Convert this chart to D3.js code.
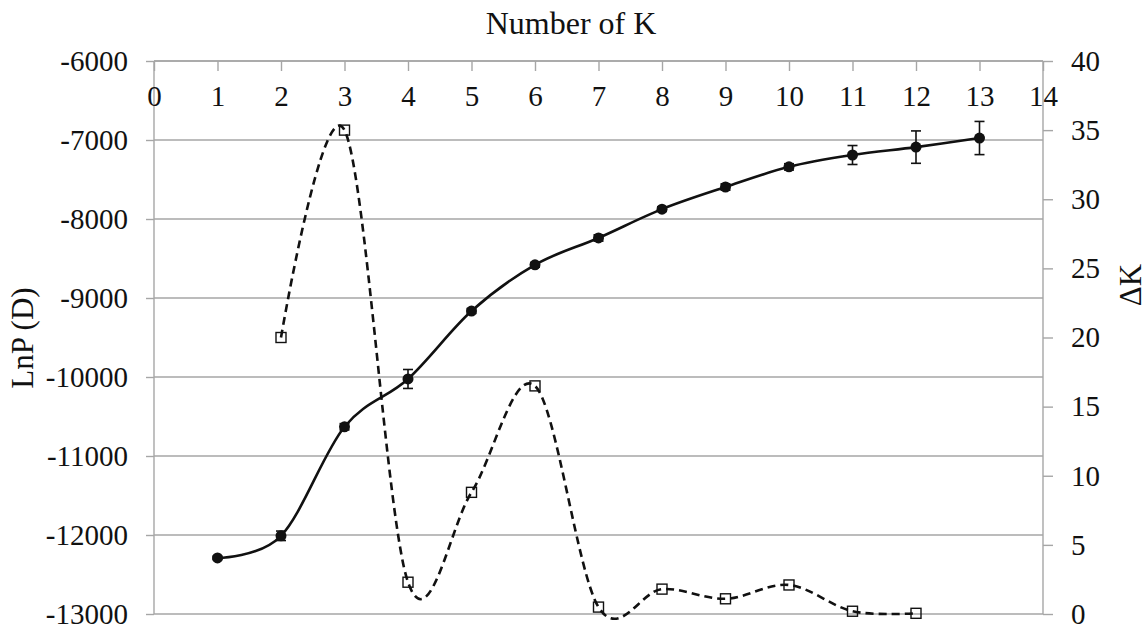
<!DOCTYPE html>
<html>
<head>
<meta charset="utf-8">
<script src="https://cdn.jsdelivr.net/npm/d3@7"></script>
<style>
  body { margin: 0; background: #fff; }
  text { font-family: "Liberation Serif", "Times New Roman", serif; fill: #111; }
</style>
</head>
<body>
<svg id="chart" width="1148" height="635"></svg>
<script>
// data
const kValues = [1, 2, 3, 4, 5, 6, 7, 8, 9, 10, 11, 12, 13];
const lnP = [-12290, -12010, -10630, -10025, -9165, -8580, -8240, -7875, -7595, -7340, -7190, -7090, -6975];
const lnPsd = [20, 60, 40, 120, 30, 30, 40, 30, 40, 40, 120, 205, 210];
const deltaKs = [2, 3, 4, 5, 6, 7, 8, 9, 10, 11, 12];
const deltaK = [20.0, 35.0, 2.3, 8.8, 16.5, 0.5, 1.8, 1.1, 2.1, 0.2, 0.05];
const xTicks = d3.range(0, 15);
const leftTicks = [-6000, -7000, -8000, -9000, -10000, -11000, -12000, -13000];
const rightTicks = [0, 5, 10, 15, 20, 25, 30, 35, 40];

const margin = { top: 61, right: 105, bottom: 21, left: 154 };
const width = 1148 - margin.left - margin.right;
const height = 635 - margin.top - margin.bottom;

const svg = d3.select("#chart");
const g = svg.append("g").attr("transform", `translate(${margin.left},${margin.top})`);

const x = d3.scaleLinear().domain([0, 14]).range([0, width]);
const yL = d3.scaleLinear().domain([-13000, -6000]).range([height, 0]);
const yR = d3.scaleLinear().domain([0, 40]).range([height, 0]);

const grey = "#a6a6a6";

// gridlines
g.append("g").selectAll("line").data(leftTicks).enter().append("line")
  .attr("x1", 0).attr("x2", width)
  .attr("y1", d => yL(d)).attr("y2", d => yL(d))
  .attr("stroke", grey).attr("stroke-width", 1.4);

// left axis (plain hyphen like the original)
const leftAxis = g.append("g")
  .call(d3.axisLeft(yL).tickValues(leftTicks).tickSize(8).tickPadding(18).tickFormat(d => String(d)));
leftAxis.selectAll("text").attr("font-size", "29px");

// right axis
const rightAxis = g.append("g").attr("transform", `translate(${width},0)`)
  .call(d3.axisRight(yR).tickValues(rightTicks).tickSize(10).tickPadding(18));
rightAxis.selectAll("text").attr("font-size", "29px");

// top x axis: ticks point down into the plot, labels below
const topAxis = g.append("g")
  .call(d3.axisBottom(x).tickValues(xTicks).tickSize(10).tickPadding(14));
topAxis.selectAll("text").attr("font-size", "29px");

[leftAxis, rightAxis, topAxis].forEach(a => {
  a.select(".domain").attr("stroke", grey).attr("stroke-width", 1.4);
  a.selectAll(".tick line").attr("stroke", grey).attr("stroke-width", 1.4);
  a.selectAll("text").attr("fill", "#111");
});
leftAxis.select(".domain").attr("d", `M0,0V${height}`);
rightAxis.select(".domain").attr("d", `M0,0V${height}`);
topAxis.select(".domain").attr("d", `M0,0H${width}`);

// ΔK dashed smooth line
const lineR = d3.line()
  .x((d, i) => x(deltaKs[i]))
  .y(d => yR(d))
  .curve(d3.curveCardinal.tension(0));
g.append("path").datum(deltaK)
  .attr("d", lineR)
  .attr("fill", "none").attr("stroke", "#111")
  .attr("stroke-width", 2.6).attr("stroke-dasharray", "8,5");

g.append("g").selectAll("rect").data(deltaK).enter().append("rect")
  .attr("x", (d, i) => x(deltaKs[i]) - 5)
  .attr("y", d => yR(d) - 5)
  .attr("width", 10).attr("height", 10)
  .attr("fill", "none").attr("stroke", "#111").attr("stroke-width", 1.4);

// LnP solid smooth line
const lineL = d3.line()
  .x((d, i) => x(kValues[i]))
  .y(d => yL(d))
  .curve(d3.curveCardinal.tension(0));
g.append("path").datum(lnP)
  .attr("d", lineL)
  .attr("fill", "none").attr("stroke", "#111").attr("stroke-width", 2.6);

// error bars
const err = g.append("g").attr("stroke", "#111").attr("stroke-width", 1.6);
lnP.forEach((v, i) => {
  const cx = x(kValues[i]);
  const t = yL(v + lnPsd[i]), b = yL(v - lnPsd[i]);
  err.append("line").attr("x1", cx).attr("x2", cx).attr("y1", t).attr("y2", b);
  err.append("line").attr("x1", cx - 5).attr("x2", cx + 5).attr("y1", t).attr("y2", t);
  err.append("line").attr("x1", cx - 5).attr("x2", cx + 5).attr("y1", b).attr("y2", b);
});

g.append("g").selectAll("circle").data(lnP).enter().append("circle")
  .attr("cx", (d, i) => x(kValues[i]))
  .attr("cy", d => yL(d))
  .attr("r", 5.5).attr("fill", "#111");

// titles
svg.append("text").attr("x", 571).attr("y", 34)
  .attr("text-anchor", "middle").attr("font-size", "32px").text("Number of K");
svg.append("text").attr("transform", "translate(33,338) rotate(-90)")
  .attr("text-anchor", "middle").attr("font-size", "31px").text("LnP (D)");
svg.append("text").attr("transform", "translate(1141,285) rotate(-90)")
  .attr("text-anchor", "middle").attr("font-size", "31px").text("ΔK");
</script>
</body>
</html>
